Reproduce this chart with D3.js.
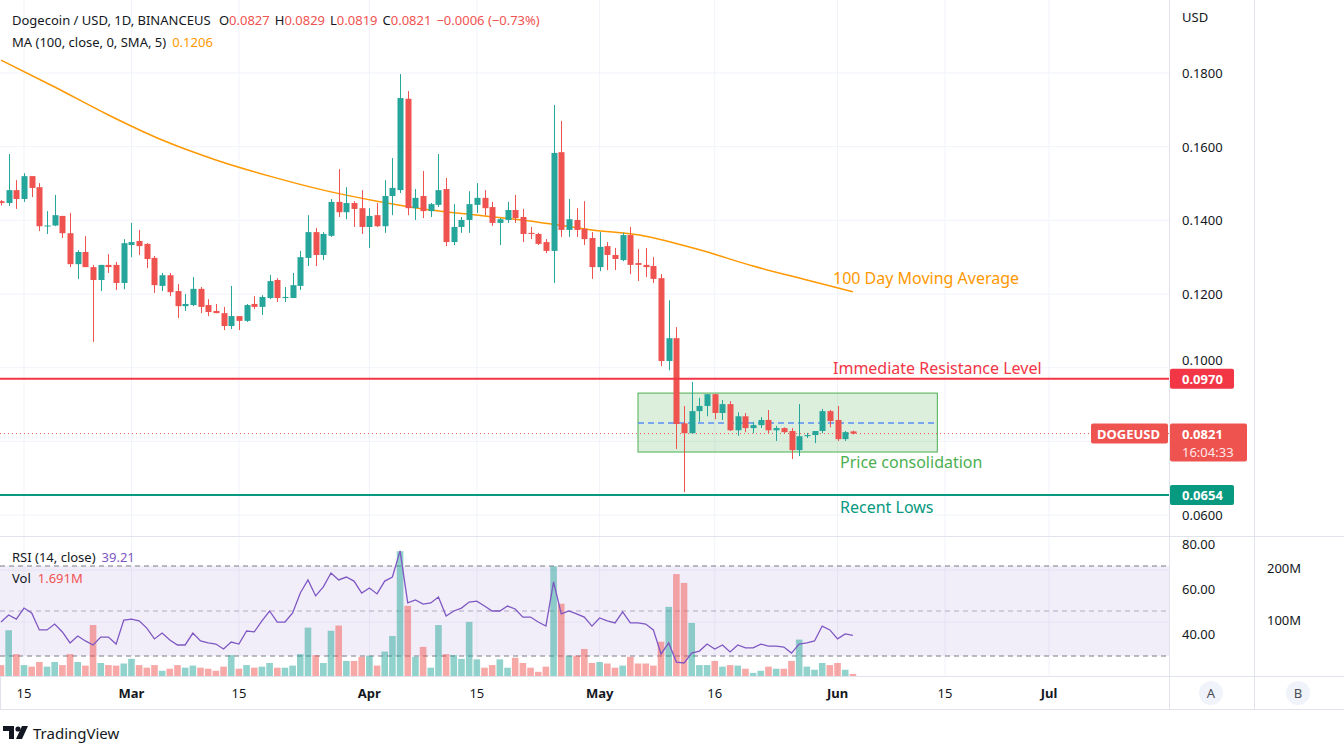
<!DOCTYPE html>
<html>
<head>
<meta charset="utf-8">
<script src="https://cdn.jsdelivr.net/npm/d3@7"></script>
<style>
  body { margin: 0; background: #fff; }
  svg { font-family: "Noto Sans", Roboto, sans-serif; }
</style>
</head>
<body>
<div id="chart"></div>
<script>
// daily candles, Feb 12 .. Jun 3 2022
const startDate = '2022-02-12';
const opens = [.1452,.1447,.1482,.1458,.1520,.1490,.1384,.1386,.1412,.1365,.1281,.1314,.1273,.1238,.1279,.1279,.1230,
  .1333,.1344,.1336,.1298,.1222,.1251,.1208,.1167,.1170,.1214,.1170,.1154,.1148,.1113,.1140,.1127,.1173,.1165,.1189,.1238,.1189,.1189,.1222,.1298,.1368,.1306,.1358,.1450,.1422,.1447,.1433,
  .1382,.1414,.1384,.1466,.1482,.1730,.1433,.1466,.1425,.1442,.1485,.1341,.1382,.1401,.1442,.1461,.1436,.1393,.1401,.1428,.1409,.1366,.1363,.1341,.1317,.1585,.1374,.1401,.1377,.1352,
  .1273,.1330,.1306,.1292,.1360,.1284,.1279,.1276,.1243,.1018,.1080,.0849,.0822,.0882,.0896,.0928,.0877,.0901,.0830,.0868,.0836,.0844,.0858,.0830,.0836,.0828,.0776,.0814,.0817,.0828,.0882,
  .0858,.0806,.0827];
const highs = [.1455,.1580,.1509,.1528,.1520,.1501,.1425,.1469,.1412,.1420,.1319,.1357,.1279,.1279,.1308,.1287,.1349,
  .1393,.1374,.1338,.1303,.1257,.1257,.1227,.1200,.1246,.1219,.1186,.1173,.1165,.1222,.1140,.1173,.1194,.1197,.1252,.1243,.1219,.1257,.1317,.1414,.1379,.1368,.1458,.1539,.1490,.1452,.1482,
  .1433,.1447,.1509,.1569,.1797,.1751,.1485,.1534,.1447,.1580,.1515,.1444,.1409,.1479,.1501,.1482,.1450,.1406,.1450,.1469,.1431,.1382,.1366,.1349,.1713,.1670,.1458,.1433,.1452,.1368,
  .1368,.1341,.1325,.1366,.1382,.1322,.1325,.1300,.1254,.1183,.1110,.0896,.0961,.0918,.0928,.0928,.0912,.0909,.0879,.0877,.0853,.0866,.0885,.0842,.0838,.0836,.0901,.0823,.0825,.0888,.0885,
  .0896,.0828,.0829];
const lows = [.1440,.1439,.1431,.1450,.1463,.1371,.1363,.1384,.1352,.1273,.1241,.1273,.1070,.1208,.1257,.1211,.1213,
  .1300,.1306,.1270,.1203,.1208,.1194,.1135,.1154,.1167,.1148,.1140,.1148,.1102,.1105,.1102,.1124,.1159,.1143,.1186,.1178,.1178,.1189,.1211,.1276,.1276,.1292,.1355,.1409,.1403,.1382,.1363,
  .1325,.1382,.1366,.1414,.1474,.1414,.1401,.1406,.1409,.1436,.1330,.1333,.1366,.1366,.1420,.1414,.1385,.1333,.1393,.1393,.1341,.1349,.1333,.1311,.1230,.1355,.1355,.1355,.1333,.1241,
  .1262,.1265,.1265,.1289,.1254,.1235,.1246,.1230,.1004,.0993,.0779,.0662,.0822,.0853,.0868,.0860,.0858,.0828,.0815,.0825,.0822,.0836,.0822,.0801,.0822,.0752,.0760,.0809,.0795,.0822,.0838,
  .0801,.0801,.0819];
const closes = [.1447,.1482,.1458,.1520,.1488,.1384,.1386,.1414,.1365,.1281,.1314,.1273,.1238,.1279,.1273,.1230,.1338,
  .1341,.1330,.1295,.1224,.1251,.1205,.1167,.1173,.1214,.1165,.1151,.1148,.1113,.1140,.1127,.1170,.1165,.1192,.1235,.1189,.1192,.1224,.1300,.1368,.1306,.1363,.1450,.1422,.1447,.1431,.1382,
  .1412,.1384,.1466,.1488,.1732,.1433,.1461,.1425,.1444,.1482,.1341,.1382,.1401,.1444,.1461,.1433,.1393,.1403,.1428,.1406,.1363,.1363,.1336,.1317,.1583,.1374,.1403,.1374,.1349,.1273,
  .1328,.1306,.1295,.1360,.1279,.1279,.1273,.1241,.1018,.1080,.0847,.0822,.0882,.0896,.0928,.0877,.0901,.0830,.0868,.0836,.0844,.0858,.0830,.0836,.0825,.0776,.0814,.0817,.0828,.0882,.0855,
  .0806,.0825,.0821];
// volume in millions
const volumes = [21,88,42,21,18,27,18,27,21,42,27,20,98,25,21,20,24,
  33,21,16,21,10,14,21,16,20,16,14,10,18,40,14,21,16,18,25,16,16,20,42,93,40,25,87,97,29,29,37,
  39,20,47,77,240,135,37,56,16,98,42,40,33,104,32,16,21,32,16,35,25,16,8,18,211,139,39,39,52,25,
  27,24,16,20,37,24,24,20,66,133,196,179,102,21,21,29,18,21,20,14,6,10,18,14,14,29,70,18,12,25,21,
  25,12,4];
const rsi = [45.1,48.2,46.4,51.3,49.1,41.6,41.6,44.2,40.7,35.8,38.9,36.7,34.9,38.4,38.4,35.3,46.0,
  46.4,45.6,42.4,37.6,40.2,37.1,34.9,34.9,40.2,36.7,35.8,35.3,33.1,36.2,35.3,41.1,40.7,45.6,50.0,45.1,45.1,49.1,58.0,63.8,56.7,60.7,66.9,63.8,65.1,63.3,58.0,
  60.2,57.6,63.3,65.1,76.7,53.6,54.9,53.1,53.6,56.2,47.8,50.0,51.3,54.0,54.4,52.2,50.0,50.0,52.2,50.9,47.3,47.3,45.1,43.3,62.9,48.7,50.0,48.7,47.3,43.3,
  46.9,45.6,44.7,49.6,44.7,44.7,44.2,41.6,30.9,35.8,27.3,26.9,31.3,32.2,35.3,33.1,34.9,31.8,34.9,33.6,33.6,35.3,34.4,34.4,34.0,31.3,35.3,35.8,36.7,43.3,41.6,
  37.6,39.8,39.21];
// 100 day SMA, read weekly from Feb 12
const maDates = ['2022-02-12','2022-02-19','2022-02-26','2022-03-05','2022-03-12','2022-03-19','2022-03-26','2022-04-02',
  '2022-04-09','2022-04-16','2022-04-23','2022-04-30','2022-05-07','2022-05-14','2022-05-21','2022-05-28','2022-06-03'];
const maValues = [.1835,.1762,.1686,.1618,.1564,.1520,.1482,.1452,.1428,.1412,.1395,.1374,.1357,.1320,.1276,.1238,.1206];

// 0.0800 sits under the last-price tag, as on the original
const priceTicks = [0.06,0.10,0.12,0.14,0.16,0.18];
const gridTicks = [0.06,0.08,0.10,0.12,0.14,0.16,0.18];
const rsiTicks = [40,60,80];
const volTicks = [100,200];
const timeTicks = [['2022-02-15','15'],['2022-03-01','Mar'],['2022-03-15','15'],['2022-04-01','Apr'],['2022-04-15','15'],
  ['2022-05-01','May'],['2022-05-16','16'],['2022-06-01','Jun'],['2022-06-15','15'],['2022-07-01','Jul']];

const resistance = 0.0970;
const recentLow = 0.0654;
const boxStart = '2022-05-06', boxEnd = '2022-06-14';
const boxTop = 0.0931, boxBottom = 0.0771, boxMid = 0.0850;

const width = 1344, height = 755;
const plotRight = 1169;
const parse = d3.timeParse('%Y-%m-%d');
const day0 = parse(startDate);
const dates = closes.map((d, i) => d3.timeDay.offset(day0, i));

const up = '#26a69a', down = '#ef5350';

const svg = d3.select('#chart').append('svg')
  .attr('width', width).attr('height', height);

const x = d3.scaleTime()
  .domain([parse('2022-02-15'), parse('2022-06-15'), parse('2022-07-01')])
  .range([24, 945, 1049]);
const y = d3.scaleLinear().domain([0.06, 0.18]).range([515, 73]);
const yRsi = d3.scaleLinear().domain([30, 70]).range([656, 566]);
const yVol = d3.scaleLinear().domain([0, 100]).range([676, 624]);

// grid
const grid = svg.append('g').attr('stroke', '#f0f3fa');
grid.selectAll('.vg').data(timeTicks).enter().append('line')
  .attr('x1', d => x(parse(d[0]))).attr('x2', d => x(parse(d[0])))
  .attr('y1', 0).attr('y2', 676);
grid.selectAll('.hg').data(gridTicks).enter().append('line')
  .attr('x1', 0).attr('x2', plotRight).attr('y1', d => y(d)).attr('y2', d => y(d));
grid.selectAll('.vgl').data(volTicks).enter().append('line')
  .attr('x1', 0).attr('x2', plotRight).attr('y1', d => yVol(d) - 2).attr('y2', d => yVol(d) - 2);

// RSI band
svg.append('rect').attr('x', 0).attr('width', plotRight)
  .attr('y', yRsi(70)).attr('height', yRsi(30) - yRsi(70))
  .attr('fill', 'rgba(126,87,194,0.1)');
svg.selectAll('.rl').data([70, 50, 30]).enter().append('line')
  .attr('x1', 0).attr('x2', plotRight).attr('y1', d => yRsi(d)).attr('y2', d => yRsi(d))
  .attr('stroke', d => d == 50 ? '#b2a8c4' : '#787b86').attr('stroke-dasharray', '5,4');

// volume
svg.append('g').selectAll('rect').data(volumes).enter().append('rect')
  .attr('x', (d, i) => x(dates[i]) - 3.3).attr('width', 6.6)
  .attr('y', d => yVol(d)).attr('height', d => yVol(0) - yVol(d))
  .attr('fill', (d, i) => closes[i] >= opens[i] ? 'rgba(38,166,154,0.5)' : 'rgba(239,83,80,0.5)');

// RSI line
svg.append('path').datum(rsi)
  .attr('d', d3.line().x((d, i) => x(dates[i])).y(d => yRsi(d)))
  .attr('fill', 'none').attr('stroke', '#7e57c2').attr('stroke-width', 1.3);

// consolidation box
svg.append('rect')
  .attr('x', x(parse(boxStart))).attr('width', x(parse(boxEnd)) - x(parse(boxStart)))
  .attr('y', y(boxTop)).attr('height', y(boxBottom) - y(boxTop))
  .attr('fill', 'rgba(76,175,80,0.2)').attr('stroke', '#4caf50').attr('stroke-width', 1);
svg.append('line')
  .attr('x1', x(parse(boxStart))).attr('x2', x(parse(boxEnd)))
  .attr('y1', y(boxMid)).attr('y2', y(boxMid))
  .attr('stroke', '#5b8ff9').attr('stroke-width', 1.5).attr('stroke-dasharray', '6,4');

// current price dotted line
svg.append('line').attr('x1', 0).attr('x2', plotRight)
  .attr('y1', y(closes[closes.length - 1])).attr('y2', y(closes[closes.length - 1]))
  .attr('stroke', down).attr('stroke-dasharray', '1,3');

// MA
svg.append('path').datum(maValues)
  .attr('d', d3.line().curve(d3.curveMonotoneX).x((d, i) => x(parse(maDates[i]))).y(d => y(d)))
  .attr('fill', 'none').attr('stroke', '#ff9800').attr('stroke-width', 1.5);

// candles
const candles = svg.append('g');
candles.selectAll('line').data(closes).enter().append('line')
  .attr('x1', (d, i) => Math.round(x(dates[i])) + 0.5).attr('x2', (d, i) => Math.round(x(dates[i])) + 0.5)
  .attr('y1', (d, i) => y(highs[i])).attr('y2', (d, i) => y(lows[i]))
  .attr('stroke', (d, i) => d >= opens[i] ? up : down);
candles.selectAll('rect').data(closes).enter().append('rect')
  .attr('x', (d, i) => Math.round(x(dates[i])) - 2.5).attr('width', 6)
  .attr('y', (d, i) => y(Math.max(d, opens[i])))
  .attr('height', (d, i) => Math.max(1, Math.abs(y(d) - y(opens[i]))))
  .attr('fill', (d, i) => d >= opens[i] ? up : down);

// horizontal levels
svg.append('line').attr('x1', 0).attr('x2', plotRight).attr('y1', y(resistance)).attr('y2', y(resistance))
  .attr('stroke', '#f23645').attr('stroke-width', 2);
svg.append('line').attr('x1', 0).attr('x2', plotRight).attr('y1', y(recentLow)).attr('y2', y(recentLow))
  .attr('stroke', '#089981').attr('stroke-width', 2);

// annotations
const notes = [
  ['100 Day Moving Average', 833, 284, '#ff9800'],
  ['Immediate Resistance Level', 833, 374, '#f23645'],
  ['Price consolidation', 840, 468, '#4caf50'],
  ['Recent Lows', 840, 513, '#089981']
];
svg.selectAll('.note').data(notes).enter().append('text')
  .attr('x', d => d[1]).attr('y', d => d[2]).attr('fill', d => d[3])
  .attr('font-size', 16).text(d => d[0]);

// panel borders
const border = svg.append('g').attr('stroke', '#e0e3eb');
border.append('line').attr('x1', plotRight + 0.5).attr('x2', plotRight + 0.5).attr('y1', 0).attr('y2', 709);
border.append('line').attr('x1', 1254.5).attr('x2', 1254.5).attr('y1', 0).attr('y2', 709);
border.append('line').attr('x1', 0).attr('x2', width).attr('y1', 536.5).attr('y2', 536.5);
border.append('line').attr('x1', 0).attr('x2', width).attr('y1', 676.5).attr('y2', 676.5);
border.append('line').attr('x1', 0).attr('x2', width).attr('y1', 709.5).attr('y2', 709.5);
border.append('line').attr('x1', 0.5).attr('x2', 0.5).attr('y1', 676).attr('y2', 709);

// price axis
const axisText = svg.append('g').attr('font-size', 13).attr('fill', '#131722');
axisText.append('text').attr('x', 1182).attr('y', 22).text('USD');
axisText.selectAll('.pt').data(priceTicks).enter().append('text')
  .attr('x', 1182).attr('y', d => y(d) + (d == 0.10 ? -3 : 5)).text(d => d.toFixed(4));
axisText.selectAll('.rt').data(rsiTicks).enter().append('text')
  .attr('x', 1182).attr('y', d => yRsi(d) + 5).text(d => d.toFixed(2));
axisText.selectAll('.vt').data(volTicks).enter().append('text')
  .attr('x', 1267).attr('y', d => yVol(d) + 1).text(d => d + 'M');

// level tags on axis
function tag(v, fill, label) {
  svg.append('rect').attr('x', 1170).attr('y', y(v) - 10).attr('width', 64).attr('height', 20)
    .attr('rx', 2).attr('fill', fill);
  svg.append('text').attr('x', 1182).attr('y', y(v) + 5).attr('fill', '#fff')
    .attr('font-size', 13).attr('font-weight', 'bold').text(label);
}
tag(resistance, '#f23645', resistance.toFixed(4));
tag(recentLow, '#089981', recentLow.toFixed(4));

const last = closes[closes.length - 1];
svg.append('rect').attr('x', 1091).attr('y', y(last) - 10).attr('width', 77).attr('height', 20)
  .attr('rx', 2).attr('fill', down);
svg.append('rect').attr('x', 1170).attr('y', y(last) - 10).attr('width', 77).attr('height', 38)
  .attr('rx', 2).attr('fill', down);
svg.append('text').attr('x', 1097).attr('y', y(last) + 5).attr('fill', '#fff')
  .attr('font-size', 13).attr('font-weight', 'bold').text('DOGEUSD');
svg.append('text').attr('x', 1182).attr('y', y(last) + 5).attr('fill', '#fff')
  .attr('font-size', 13).attr('font-weight', 'bold').text(last.toFixed(4));
svg.append('text').attr('x', 1182).attr('y', y(last) + 23).attr('fill', '#fde7e7')
  .attr('font-size', 13).text('16:04:33');

// time axis
svg.append('g').selectAll('text').data(timeTicks).enter().append('text')
  .attr('x', d => x(parse(d[0]))).attr('y', 698).attr('text-anchor', 'middle')
  .attr('font-size', 13).attr('fill', '#131722')
  .attr('font-weight', d => isNaN(+d[1]) ? 'bold' : 'normal').text(d => d[1]);

// A / B buttons
[['A', 1211], ['B', 1298]].forEach(b => {
  svg.append('circle').attr('cx', b[1]).attr('cy', 693).attr('r', 12).attr('fill', '#f0f3fa');
  svg.append('text').attr('x', b[1]).attr('y', 698).attr('text-anchor', 'middle')
    .attr('font-size', 13).attr('fill', '#4a4d57').text(b[0]);
});

// legends
const hdr = svg.append('text').attr('x', 12).attr('y', 25).attr('font-size', 13).attr('fill', '#131722')
  .attr('xml:space', 'preserve');
hdr.append('tspan').text('Dogecoin / USD, 1D, BINANCEUS ');
[['O', opens], ['H', highs], ['L', lows], ['C', closes]].forEach(p => {
  hdr.append('tspan').attr('dx', 5).text(p[0]);
  hdr.append('tspan').attr('fill', down).text(p[1][p[1].length - 1].toFixed(4));
});
hdr.append('tspan').attr('dx', 5).attr('fill', down).text('\u22120.0006 (\u22120.73%)');

const ma = svg.append('text').attr('x', 12).attr('y', 47).attr('font-size', 13).attr('fill', '#131722');
ma.append('tspan').text('MA (100, close, 0, SMA, 5)');
ma.append('tspan').attr('dx', 6).attr('fill', '#ff9800').text(maValues[maValues.length - 1].toFixed(4));

const rl = svg.append('text').attr('x', 12).attr('y', 562).attr('font-size', 13).attr('fill', '#131722');
rl.append('tspan').text('RSI (14, close)');
rl.append('tspan').attr('dx', 6).attr('fill', '#7e57c2').text(rsi[rsi.length - 1].toFixed(2));
const vl = svg.append('text').attr('x', 12).attr('y', 583).attr('font-size', 13).attr('fill', '#131722');
vl.append('tspan').text('Vol');
vl.append('tspan').attr('dx', 7).attr('fill', down).text('1.691M');

// logo
const logo = svg.append('g').attr('transform', 'translate(3,726)');
logo.append('path').attr('d', 'M0 0 H11 V13 H6 V5 H0 Z').attr('fill', '#131722');
logo.append('circle').attr('cx', 15).attr('cy', 3).attr('r', 2.6).attr('fill', '#131722');
logo.append('path').attr('d', 'M19 0 H25 L19 13 H13 Z').attr('fill', '#131722');
svg.append('text').attr('x', 33).attr('y', 739).attr('font-size', 15).attr('fill', '#131722').text('TradingView');
</script>
</body>
</html>
